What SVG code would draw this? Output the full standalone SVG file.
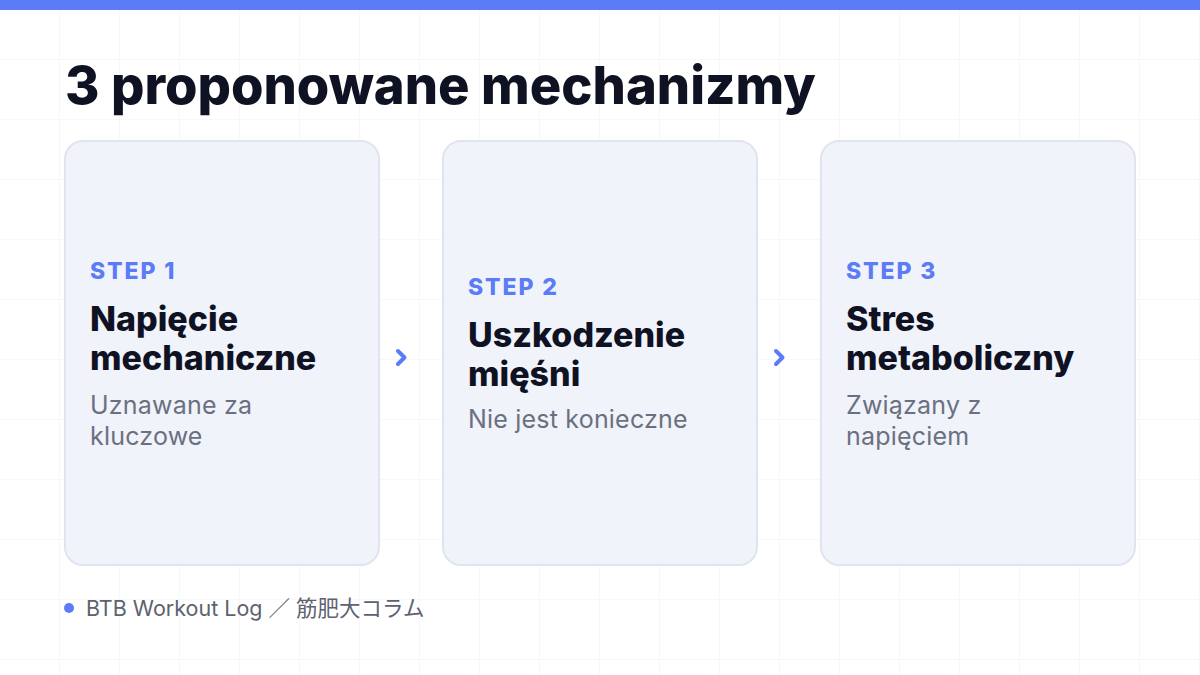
<svg xmlns="http://www.w3.org/2000/svg" width="1200" height="675" viewBox="0 0 1200 675">
  <defs>
    <pattern id="grid" width="60" height="60" patternUnits="userSpaceOnUse">
      <path d="M60 0 V60 M0 60 H60" fill="none" stroke="#eff1f5" stroke-width="1"/>
    </pattern>
    <style>
      .card { fill: #f1f3fb; stroke: #e0e4f0; stroke-width: 2; }
      .step { font-family: Inter, "Noto Sans", sans-serif; font-weight: 800; font-size: 23px; letter-spacing: 1.9px; fill: #5b7cf6; }
      .ttl { font-family: Inter, "Noto Sans", sans-serif; font-weight: 800; font-size: 34px; fill: #0f1222; }
      .desc { font-family: Inter, "Noto Sans", sans-serif; font-weight: 400; font-size: 25px; letter-spacing: 0.2px; fill: #6b7080; }
      .chev { fill: none; stroke: #5b7cf6; stroke-width: 4; stroke-linecap: round; stroke-linejoin: round; }
    </style>
  </defs>
  <rect width="1200" height="675" fill="#ffffff"/>
  <rect width="1200" height="675" fill="url(#grid)"/>
  <rect x="0" y="0" width="1200" height="10" fill="#5b7cf6"/>

  <text x="65" y="104" font-family="Inter, 'Noto Sans', sans-serif" font-weight="800" font-size="52.5" fill="#0f1222">3 proponowane mechanizmy</text>

  <g id="node1">
    <rect class="card" x="65" y="141" width="314" height="424" rx="18"/>
    <text class="step" x="90" y="279">STEP 1</text>
    <text class="ttl" x="90" y="331">Napięcie</text>
    <text class="ttl" x="90" y="370">mechaniczne</text>
    <text class="desc" x="90" y="414">Uznawane za</text>
    <text class="desc" x="90" y="445">kluczowe</text>
  </g>

  <g id="node2">
    <rect class="card" x="443" y="141" width="314" height="424" rx="18"/>
    <text class="step" x="468" y="295">STEP 2</text>
    <text class="ttl" x="468" y="347">Uszkodzenie</text>
    <text class="ttl" x="468" y="386">mięśni</text>
    <text class="desc" x="468" y="428">Nie jest konieczne</text>
  </g>

  <g id="node3">
    <rect class="card" x="821" y="141" width="314" height="424" rx="18"/>
    <text class="step" x="846" y="279">STEP 3</text>
    <text class="ttl" x="846" y="331">Stres</text>
    <text class="ttl" x="846" y="370">metaboliczny</text>
    <text class="desc" x="846" y="414">Związany z</text>
    <text class="desc" x="846" y="445">napięciem</text>
  </g>

  <g id="connectors">
    <path class="chev" d="M398 351 L404.5 357.5 L398 364"/>
    <path class="chev" d="M776 351 L782.5 357.5 L776 364"/>
  </g>

  <g id="footer">
    <circle cx="69" cy="608" r="5" fill="#5b7cf6"/>
    <text x="86" y="616" font-family="Inter, 'Noto Sans', 'Noto Sans CJK JP', sans-serif" font-size="21.5" fill="#5e6270">BTB Workout Log ／ 筋肥大コラム</text>
  </g>
</svg>
